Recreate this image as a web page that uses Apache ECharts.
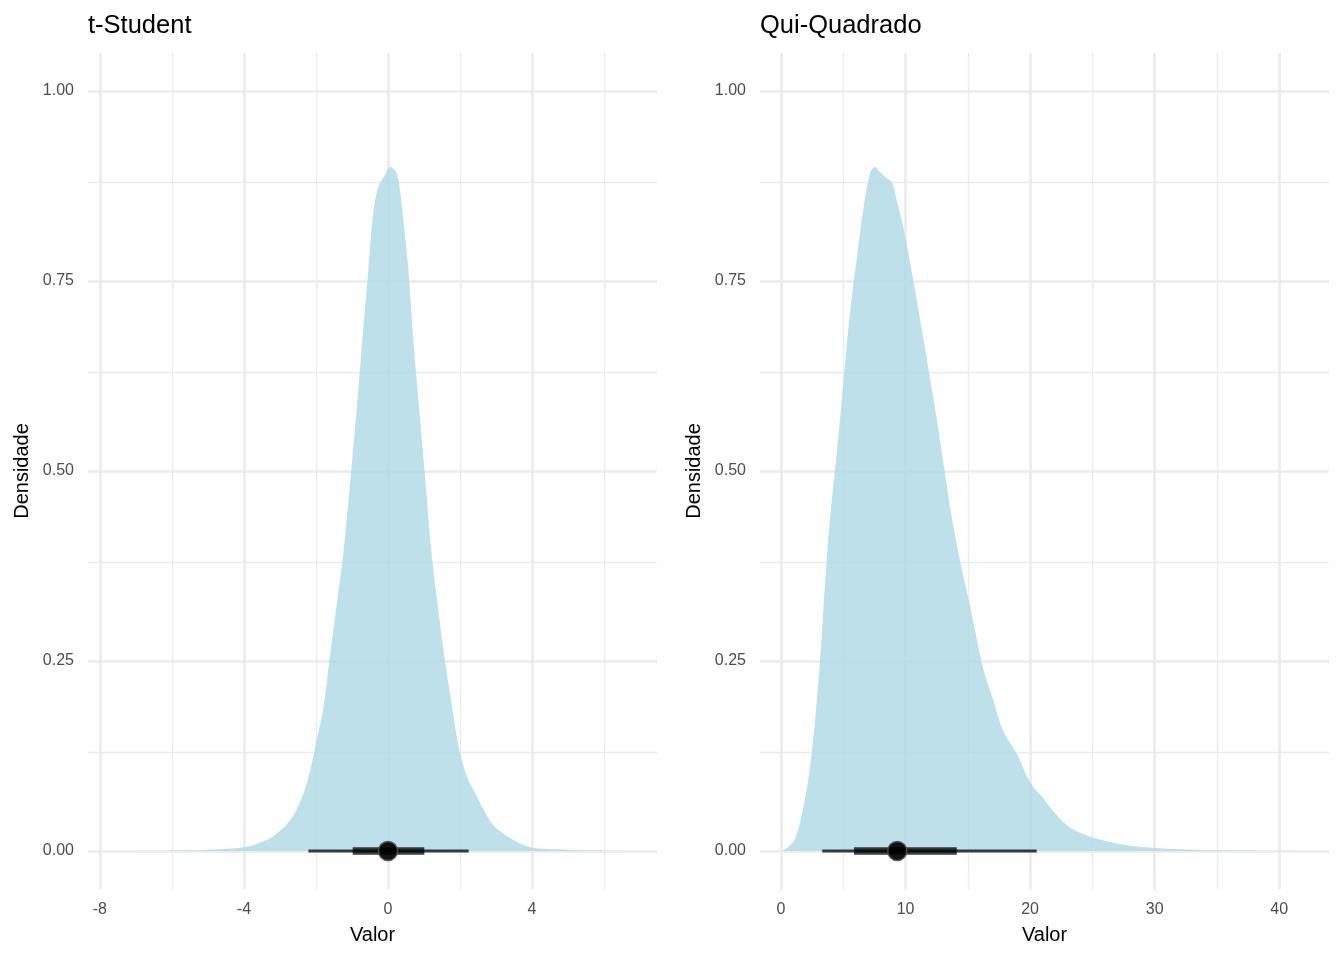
<!DOCTYPE html>
<html>
<head>
<meta charset="utf-8">
<script src="https://cdn.jsdelivr.net/npm/echarts@6/dist/echarts.min.js"></script>
<style>
  html, body { margin: 0; background: #fff; }
  #chart { width: 1344px; height: 960px; }
</style>
</head>
<body>
<div id="chart"></div>
<script>
// t-Student density
const tX = [-7.7, -6.5, -5.5, -4.85, -4.0, -3.56, -3.19, -2.72, -2.40, -2.17, -1.98, -1.80, -1.61, -1.43, -1.24, -1.06, -0.87, -0.71, -0.55, -0.41, -0.27, -0.1, 0.056, 0.24, 0.38, 0.57, 0.70, 0.87, 1.02, 1.21, 1.40, 1.58, 1.77, 1.95, 2.18, 2.37, 2.65, 2.93, 3.39, 3.94, 4.87, 5.8, 6.6];
const tY = [0, 0.0003, 0.001, 0.002, 0.005, 0.011, 0.019, 0.040, 0.069, 0.104, 0.146, 0.187, 0.257, 0.322, 0.392, 0.480, 0.580, 0.674, 0.762, 0.839, 0.874, 0.888, 0.900, 0.892, 0.850, 0.762, 0.674, 0.580, 0.498, 0.392, 0.316, 0.251, 0.193, 0.140, 0.099, 0.081, 0.055, 0.034, 0.017, 0.005, 0.002, 0.0005, 0];
// Qui-Quadrado density
const cX = [0.06, 0.5, 1.12, 1.79, 2.46, 3.13, 3.53, 3.94, 4.47, 5.0, 5.54, 6.08, 6.61, 7.15, 7.55, 7.95, 8.35, 8.89, 9.29, 9.82, 10.63, 11.43, 11.97, 12.5, 13.04, 13.71, 14.38, 15.18, 16.25, 17.05, 17.86, 18.93, 20.0, 21.07, 21.87, 22.95, 24.0, 25.36, 26.96, 28.6, 31, 35, 40, 42.3];
const cY = [0, 0.004, 0.016, 0.057, 0.128, 0.251, 0.351, 0.439, 0.522, 0.616, 0.709, 0.780, 0.845, 0.892, 0.900, 0.893, 0.887, 0.880, 0.856, 0.821, 0.750, 0.674, 0.621, 0.569, 0.510, 0.439, 0.381, 0.322, 0.239, 0.198, 0.157, 0.128, 0.090, 0.069, 0.052, 0.034, 0.024, 0.016, 0.010, 0.006, 0.003, 0.001, 0.0003, 0];

// median, 66% and 95% intervals
const tMedian = 0.0;
const tInner = [-0.98, 1.01];
const tOuter = [-2.21, 2.24];
const cMedian = 9.33;
const cInner = [5.86, 14.11];
const cOuter = [3.31, 20.53];

// axis ticks
const tMajor = [-8, -4, 0, 4];
const tMinor = [-6, -2, 2, 6];
const cMajor = [0, 10, 20, 30, 40];
const cMinor = [5, 15, 25, 35];
const yMajor = [0, 0.25, 0.5, 0.75, 1.0];
const yMinor = [0.125, 0.375, 0.625, 0.875];

const panels = [
  { title: 't-Student', x: tX, y: tY, med: tMedian, inner: tInner, outer: tOuter,
    major: tMajor, minor: tMinor, min: -8.33, max: 7.47, left: 88 },
  { title: 'Qui-Quadrado', x: cX, y: cY, med: cMedian, inner: cInner, outer: cOuter,
    major: cMajor, minor: cMinor, min: -1.69, max: 44.0, left: 760 }
];

const font = 'Liberation Sans, Arial, Helvetica, sans-serif';
const gridColor = '#EBEBEB';

let myChart = echarts.init(document.getElementById('chart'));

let titles = [], grids = [], xAxes = [], yAxes = [], series = [];

// horizontal interval segment, drawn through the axis scales
function intervalSeries(i, seg, width, z) {
  return {
    type: 'custom', xAxisIndex: i, yAxisIndex: i, z: z, silent: true,
    data: [[seg[0], seg[1], 0]],
    renderItem: function (params, api) {
      let a = api.coord([api.value(0), api.value(2)]);
      let b = api.coord([api.value(1), api.value(2)]);
      return {
        type: 'line',
        shape: { x1: a[0], y1: a[1], x2: b[0], y2: b[1] },
        style: { stroke: 'rgba(0,0,0,0.75)', lineWidth: width, lineCap: 'butt' }
      };
    }
  };
}

panels.forEach(function (p, i) {
  titles.push({
    text: p.title, left: p.left, top: 13, padding: 0,
    textStyle: { fontFamily: font, fontSize: 25.5, fontWeight: 'normal', color: '#000' }
  });
  grids.push({ left: p.left, top: 53, width: 569, height: 836 });
  xAxes.push({
    type: 'value', gridIndex: i, min: p.min, max: p.max,
    name: 'Valor', nameLocation: 'middle', nameGap: 36,
    nameTextStyle: { fontFamily: font, fontSize: 20, color: '#000' },
    axisLine: { show: false }, axisTick: { show: false }, splitLine: { show: false },
    axisLabel: { customValues: p.major, margin: 13, fontFamily: font, fontSize: 16, color: '#4D4D4D' }
  });
  yAxes.push({
    type: 'value', gridIndex: i, min: -0.05, max: 1.05,
    name: 'Densidade', nameLocation: 'middle', nameGap: 56, nameRotate: 90,
    nameTextStyle: { fontFamily: font, fontSize: 20, color: '#000' },
    axisLine: { show: false }, axisTick: { show: false }, splitLine: { show: false },
    axisLabel: {
      customValues: yMajor, margin: 14, fontFamily: font, fontSize: 16, color: '#4D4D4D',
      formatter: function (v) { return v.toFixed(2); }
    }
  });

  // grid lines, drawn under the density
  let gl = [];
  p.major.forEach(function (v) { gl.push({ xAxis: v, lineStyle: { width: 2.6 } }); });
  p.minor.forEach(function (v) { gl.push({ xAxis: v, lineStyle: { width: 1.3 } }); });
  yMajor.forEach(function (v) { gl.push({ yAxis: v, lineStyle: { width: 2.6 } }); });
  yMinor.forEach(function (v) { gl.push({ yAxis: v, lineStyle: { width: 1.3 } }); });
  series.push({
    type: 'line', xAxisIndex: i, yAxisIndex: i, z: 0,
    data: [[p.min, 0]], showSymbol: false, lineStyle: { opacity: 0 },
    markLine: {
      z: 0, silent: true, symbol: ['none', 'none'], label: { show: false },
      lineStyle: { color: gridColor, type: 'solid' }, animation: false,
      data: gl
    }
  });

  // density slab
  series.push({
    type: 'line', xAxisIndex: i, yAxisIndex: i, z: 2,
    data: p.x.map(function (v, k) { return [v, p.y[k]]; }),
    smooth: 0.35, showSymbol: false,
    lineStyle: { width: 0 },
    areaStyle: { color: 'rgb(173,216,230)', opacity: 0.8, origin: 0 }
  });

  // 95% and 66% intervals
  series.push(intervalSeries(i, p.outer, 3, 3));
  series.push(intervalSeries(i, p.inner, 7.5, 4));
  // median point
  series.push({
    type: 'scatter', xAxisIndex: i, yAxisIndex: i, z: 5,
    data: [[p.med, 0]], symbolSize: 19,
    itemStyle: { color: 'rgba(0,0,0,0.92)', borderColor: 'rgba(80,80,80,0.9)', borderWidth: 1.5, opacity: 1 }
  });
});

let option = {
  animation: false,
  backgroundColor: '#fff',
  title: titles,
  grid: grids,
  xAxis: xAxes,
  yAxis: yAxes,
  series: series
};

myChart.setOption(option);
</script>
</body>
</html>
